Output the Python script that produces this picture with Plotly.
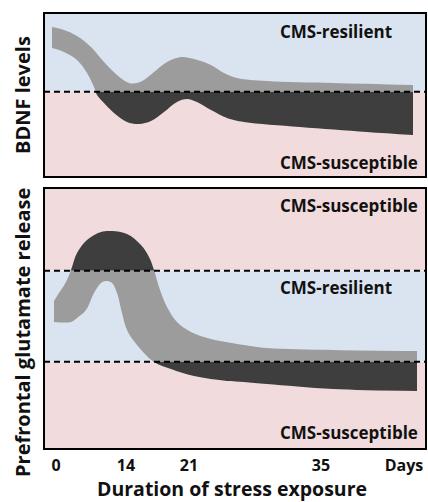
import plotly.graph_objects as go

# ---------------- data (schematic units) ----------------
# x: schematic time axis, 0..382 across each panel
tick_pos = [12, 82, 145, 277, 360]
tick_text = ["0", "14", "21", "35", "Days"]

# Top panel: BDNF levels (range 0..164), threshold between resilient/susceptible
bdnf_range = [0, 164]
bdnf_threshold = 85.3
bdnf_up_x = [8, 20, 33, 47, 60, 73, 85, 93, 100, 110, 123, 137, 150, 167, 180, 193, 223, 289, 369]
bdnf_up_y = [150, 147, 141, 130, 115, 102, 94, 94, 97, 105, 115, 120, 118, 112, 104, 99, 96, 94, 92]
bdnf_lo_x = [8, 20, 33, 43, 50, 53, 60, 70, 83, 95, 107, 120, 133, 143, 153, 167, 183, 200, 256, 323, 369]
bdnf_lo_y = [129, 125, 117, 104, 90, 82, 74, 64, 55, 53, 56, 65, 75, 78, 75, 67, 59, 55, 50, 45, 42]

# Bottom panel: prefrontal glutamate release (range 0..261), two thresholds
glu_range = [0, 261]
glu_thr_high = 178.3
glu_thr_low = 87.3
glu_up_x = [10, 15, 22, 27, 33, 43, 57, 68, 83, 97, 105, 110, 115, 123, 133, 147, 167, 200, 223, 289, 373]
glu_up_y = [148, 156, 167, 179, 196, 209, 217, 218, 215, 204, 192, 179, 162, 142, 127, 117, 110, 104, 101, 99, 98]
glu_lo_x = [10, 27, 33, 42, 50, 57, 62, 68, 73, 78, 83, 93, 110, 127, 150, 183, 200, 223, 289, 373]
glu_lo_y = [127, 127, 131, 139, 156, 166, 168, 166, 156, 136, 119, 104, 87, 80, 73, 68, 67, 65, 60, 58]

labels_top = [("CMS-resilient", 145), ("CMS-susceptible", 15)]
labels_bot = [("CMS-susceptible", 244), ("CMS-resilient", 162), ("CMS-susceptible", 17)]
label_x = 234

# ---------------- colours / layout geometry ----------------
BLUE = "#dae4f1"
PINK = "#f1dbdc"
LIGHT = "#9c9c9c"
DARK = "#3e3e3e"
FONT = "Open Sans"

W, H = 428, 502
LEFT, RIGHT = 44, 426
TOP_PANEL = (13, 177)     # pixel top, bottom
BOT_PANEL = (188, 449)
X_RANGE = [0, 382]


def fy(py):
    return 1 - py / H


def sub_domain(panel, prange, a, b):
    pt, pb = panel
    scale = (pb - pt) / (prange[1] - prange[0])
    return [fy(pb - (a - prange[0]) * scale), fy(pb - (b - prange[0]) * scale)]


fig = go.Figure()

# full-range axes (for frames, thresholds, labels)
layout_axes = {
    "yaxis": dict(domain=[fy(TOP_PANEL[1]), fy(TOP_PANEL[0])], range=bdnf_range, anchor="x"),
    "yaxis2": dict(domain=[fy(BOT_PANEL[1]), fy(BOT_PANEL[0])], range=glu_range, anchor="x"),
}

# sub-axes: each region of a panel, so the band is clipped and coloured per region
regions = [
    ("y3", TOP_PANEL, bdnf_range, bdnf_threshold, bdnf_range[1], BLUE, LIGHT, "bdnf"),
    ("y4", TOP_PANEL, bdnf_range, bdnf_range[0], bdnf_threshold, PINK, DARK, "bdnf"),
    ("y5", BOT_PANEL, glu_range, glu_thr_high, glu_range[1], PINK, DARK, "glu"),
    ("y6", BOT_PANEL, glu_range, glu_thr_low, glu_thr_high, BLUE, LIGHT, "glu"),
    ("y7", BOT_PANEL, glu_range, glu_range[0], glu_thr_low, PINK, DARK, "glu"),
]

band = {
    "bdnf": (bdnf_lo_x, bdnf_lo_y, bdnf_up_x, bdnf_up_y),
    "glu": (glu_lo_x, glu_lo_y, glu_up_x, glu_up_y),
}

shapes = []
for ax, panel, prange, lo, hi, bg, col, key in regions:
    layout_axes["yaxis" + ax[1:]] = dict(domain=sub_domain(panel, prange, lo, hi),
                                         range=[lo, hi], anchor="x")
    shapes.append(dict(type="rect", xref="x", yref=ax, x0=X_RANGE[0], x1=X_RANGE[1],
                       y0=lo, y1=hi, fillcolor=bg, line_width=0, layer="below"))
    lx, ly, ux, uy = band[key]
    fig.add_trace(go.Scatter(x=lx, y=ly, yaxis=ax, mode="lines",
                             line=dict(width=0, shape="spline", color=col),
                             hoverinfo="skip", showlegend=False))
    fig.add_trace(go.Scatter(x=ux, y=uy, yaxis=ax, mode="lines", fill="tonexty",
                             fillcolor=col, line=dict(width=0, shape="spline", color=col),
                             hoverinfo="skip", showlegend=False))

# threshold dashed lines
for yref, lvl in [("y", bdnf_threshold), ("y2", glu_thr_high), ("y2", glu_thr_low)]:
    shapes.append(dict(type="line", xref="x domain", yref=yref, x0=0, x1=1, y0=lvl, y1=lvl,
                       line=dict(color="black", width=1.9, dash="6px,4px"), layer="above"))

# panel frames
for yref in ["y", "y2"]:
    shapes.append(dict(type="rect", xref="x domain", yref=yref + " domain", x0=0, x1=1, y0=0, y1=1,
                       line=dict(color="black", width=2), fillcolor="rgba(0,0,0,0)", layer="above"))

annotations = []
for txt, lvl in labels_top:
    annotations.append(dict(text=txt, x=label_x, y=lvl, xref="x", yref="y", xanchor="left",
                            yanchor="middle", showarrow=False,
                            font=dict(family=FONT, size=17, weight="bold", color="#111")))
for txt, lvl in labels_bot:
    annotations.append(dict(text=txt, x=label_x, y=lvl, xref="x", yref="y2", xanchor="left",
                            yanchor="middle", showarrow=False,
                            font=dict(family=FONT, size=17, weight="bold", color="#111")))

# axis titles
annotations.append(dict(text="BDNF levels", x=22 / W, y=fy(95), xref="paper", yref="paper",
                        textangle=-90, showarrow=False, xanchor="center", yanchor="middle",
                        font=dict(family=FONT, size=20, weight="bold", color="#111")))
annotations.append(dict(text="Prefrontal glutamate release", x=22 / W, y=fy(333), xref="paper",
                        yref="paper", textangle=-90, showarrow=False, xanchor="center",
                        yanchor="middle",
                        font=dict(family=FONT, size=20, weight="bold", color="#111")))
annotations.append(dict(text="Duration of stress exposure", x=(LEFT + RIGHT) / 2 / W - 0.007,
                        y=fy(488), xref="paper", yref="paper", showarrow=False,
                        xanchor="center", yanchor="middle",
                        font=dict(family=FONT, size=19.5, weight="bold", color="#111")))

yaxis_common = dict(visible=False, fixedrange=True)
for k in layout_axes:
    layout_axes[k].update(yaxis_common)

fig.update_layout(
    width=W, height=H,
    margin=dict(l=0, r=0, t=0, b=0),
    paper_bgcolor="white",
    plot_bgcolor="rgba(0,0,0,0)",
    showlegend=False,
    xaxis=dict(domain=[LEFT / W, RIGHT / W], range=X_RANGE, anchor="y7",
               tickvals=tick_pos, ticktext=tick_text, showgrid=False, zeroline=False,
               showline=False, ticks="outside", ticklen=2, tickcolor="rgba(0,0,0,0)",
               tickfont=dict(family=FONT, size=16, weight="bold", color="#111"),
               fixedrange=True),
    shapes=shapes,
    annotations=annotations,
    **layout_axes,
)

fig.write_html("out.html", config={"displayModeBar": False},
               post_script="document.body.style.margin='0';document.body.style.overflow='hidden';")
